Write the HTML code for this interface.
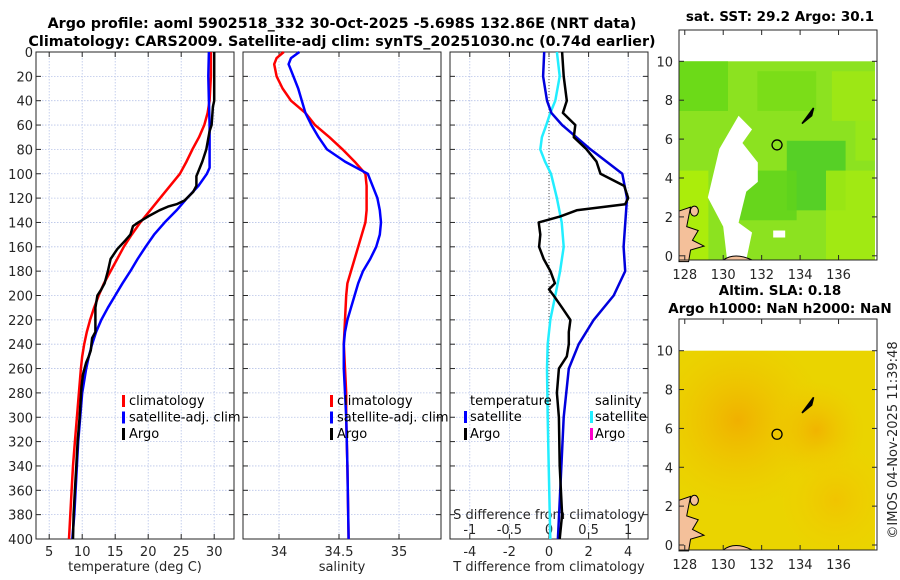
<!DOCTYPE html>
<html><head><meta charset="utf-8"><style>
body{margin:0;background:#fff;}
svg{display:block;font-family:"DejaVu Sans","Liberation Sans",sans-serif;}
.tk{font-size:13px;fill:#262626;}
.ttl{font-size:13px;font-weight:bold;fill:#000;}
.ttlm{font-size:14.3px;font-weight:bold;fill:#000;}
.lg{font-size:13px;fill:#000;}
</style></head><body>
<svg id="fig" width="900" height="580" viewBox="0 0 900 580" xmlns="http://www.w3.org/2000/svg">
<defs>
<radialGradient id="sla1" cx="0.3" cy="0.35" r="0.45"><stop offset="0" stop-color="#f0b000"/><stop offset="1" stop-color="#f0c800" stop-opacity="0"/></radialGradient>
<radialGradient id="sla2" cx="0.7" cy="0.4" r="0.25"><stop offset="0" stop-color="#f0b400"/><stop offset="1" stop-color="#f0c800" stop-opacity="0"/></radialGradient>
<radialGradient id="sla3" cx="0.8" cy="0.75" r="0.3"><stop offset="0" stop-color="#f0c400"/><stop offset="1" stop-color="#f0d000" stop-opacity="0"/></radialGradient>
</defs>
<text class="ttlm" x="342" y="28" text-anchor="middle">Argo profile: aoml 5902518_332 30-Oct-2025 -5.698S 132.86E (NRT data)</text>
<text class="ttlm" x="342" y="46" text-anchor="middle">Climatology: CARS2009. Satellite-adj clim: synTS_20251030.nc (0.74d earlier)</text>
<g id="g"></g>
<text class="ttl" x="780" y="21" text-anchor="middle" style="font-size:13.5px">sat. SST: 29.2 Argo: 30.1</text>
<text class="ttl" x="780" y="295" text-anchor="middle" style="font-size:13.5px">Altim. SLA: 0.18</text>
<text class="ttl" x="780" y="313" text-anchor="middle" style="font-size:13.5px">Argo h1000: NaN h2000: NaN</text>
<text class="tk" transform="translate(897,440) rotate(-90)" text-anchor="middle">©IMOS 04-Nov-2025 11:39:48</text>
</svg>
<script>
const depthTicks=[0,20,40,60,80,100,120,140,160,180,200,220,240,260,280,300,320,340,360,380,400];
const tTicks=[5,10,15,20,25,30];
const sTicks=[34,34.5,35];
const dTicks=[-4,-2,0,2,4];
const dsTicks=[-1,-0.5,0,0.5,1];
const dsTickLabels=["-1","-0.5","0","0.5","1"];
// temperature profiles
const tClimD=[0,20,40,50,60,70,80,90,100,110,120,130,140,150,160,170,180,190,200,210,220,230,240,250,260,280,300,320,340,360,380,400];
const tClim=[29.5,29.5,29.3,29,28.5,27.7,26.7,25.8,24.8,23.3,21.8,20.3,18.8,17.5,16.3,15.3,14.3,13.3,12.5,11.8,11.2,10.7,10.3,10,9.8,9.5,9.2,8.9,8.6,8.4,8.2,8.0];
const tSatD=[0,20,40,60,80,95,100,110,120,130,140,150,160,170,180,190,200,210,220,230,240,250,260,280,300,320,340,360,380,400];
const tSat=[29.2,29.1,29.2,29.3,29.3,29.3,28.9,27.6,25.9,24.3,22.5,20.9,19.6,18.4,17.3,16.1,15,13.9,12.9,12.1,11.5,11,10.6,10,9.7,9.4,9.2,9,8.8,8.5];
const tArgoD=[0,20,40,45,60,65,80,90,98,102,110,115,122,125,127,130,135,140,143,150,155,162,170,180,190,195,200,210,220,230,235,245,250,255,265,275,300,320,340,360,380,400];
const tArgo=[30,30,30,29.8,29.6,29.3,28.8,28.2,27.6,27.3,27.3,26.8,25.5,24.3,23,21.7,20,18.5,17.7,17.3,16.5,15.3,14.3,13.9,13.4,12.9,12.3,12,12,12,11.5,11.3,11,10.6,10.1,9.9,9.6,9.3,9.1,8.9,8.7,8.6];
// salinity profiles
const sClimD=[0,5,10,20,30,40,50,60,70,80,90,100,110,120,130,140,150,160,170,180,190,200,220,240,260,280,300,340,400];
const sClim=[34.04,33.98,33.96,33.98,34.03,34.1,34.22,34.3,34.42,34.53,34.63,34.72,34.73,34.73,34.73,34.72,34.69,34.66,34.63,34.6,34.57,34.56,34.55,34.54,34.55,34.56,34.56,34.57,34.58];
const sSatD=[0,5,10,20,30,40,50,60,70,80,90,100,110,120,130,140,150,160,170,180,190,200,210,220,230,240,260,280,300,340,400];
const sSat=[34.17,34.1,34.08,34.12,34.16,34.19,34.22,34.27,34.33,34.4,34.55,34.74,34.78,34.82,34.84,34.85,34.84,34.81,34.76,34.7,34.66,34.63,34.6,34.57,34.55,34.54,34.54,34.55,34.56,34.57,34.58];
// differences
const dSatD=[0,20,40,50,60,80,100,120,160,180,200,220,240,260,300,400];
const dSatT=[-0.24,-0.3,-0.1,0.12,0.66,2.1,3.7,3.94,3.77,3.85,3.27,2.26,1.5,1.0,0.74,0.45];
const dArgoD=[0,20,40,50,60,70,80,90,100,110,120,125,130,135,140,150,160,170,180,190,195,200,210,220,230,240,250,260,280,300,340,380,400];
const dArgoT=[0.66,0.74,0.9,0.7,1.33,1.25,1.9,2.4,2.6,3.8,4.0,3.85,1.4,0.57,-0.52,-0.44,-0.5,-0.27,0.07,0.3,0,0.23,0.66,1.08,1.0,1.0,0.9,0.5,0.4,0.5,0.54,0.66,0.54];
const dSatSD=[0,20,40,50,60,70,80,90,100,120,140,160,180,200,220,240,260,300,340,400];
const dSatS=[0.1,0.135,0.08,0.017,-0.034,-0.09,-0.11,-0.05,0.025,0.1,0.16,0.185,0.14,0.08,0.017,-0.017,-0.025,-0.017,-0.004,0.017];
// map ticks
const lonTicks=[128,130,132,134,136];
const latTicks=[0,2,4,6,8,10];
const argoPos=[132.8,5.7];

const NS="http://www.w3.org/2000/svg";
const G=document.getElementById('g');
function mk(tag,at,parent){const e=document.createElementNS(NS,tag);for(const k in at)e.setAttribute(k,at[k]);(parent||G).appendChild(e);return e;}
const PT=52,PB=539;
const yD=d=>PT+(d/400)*(PB-PT);
function xs(x0,x1,v0,v1){return v=>x0+(v-v0)/(v1-v0)*(x1-x0);}
const xT=xs(36,234,3,33), xS=xs(243,441,33.7,35.35), xDT=xs(450,648,-5,5), xDS=xs(450,648,-1.25,1.25);

function panel(name,x0,x1,xf,ticks,labels,showY,labY){
  const gg=mk('g',{});
  
  
  for(const d of depthTicks){
    const l=mk('line',{x1:x0,x2:x1,y1:yD(d),y2:yD(d),stroke:'#b8c4e8','stroke-width':0.8,'stroke-dasharray':'1.5,1.5'},gg);
    
    mk('line',{x1:x0,x2:x0+5,y1:yD(d),y2:yD(d),stroke:'#262626'},gg);
    mk('line',{x1:x1,x2:x1-5,y1:yD(d),y2:yD(d),stroke:'#262626'},gg);
    if(showY){const t=mk('text',{x:x0-3,y:yD(d)+5,'text-anchor':'end',class:'tk'},gg);t.textContent=d;
      }
  }
  ticks.forEach((v,i)=>{
    const x=xf(v);
    mk('line',{x1:x,x2:x,y1:PT,y2:PB,stroke:'#b8c4e8','stroke-width':0.8,'stroke-dasharray':'1.5,1.5'},gg);
    mk('line',{x1:x,x2:x,y1:PB,y2:PB-5,stroke:'#262626'},gg);
    mk('line',{x1:x,x2:x,y1:PT,y2:PT+5,stroke:'#262626'},gg);
    const t=mk('text',{x:x,y:labY,'text-anchor':'middle',class:'tk'},gg);t.textContent=labels[i];
    
  });
  const b=mk('rect',{x:x0,y:PT,width:x1-x0,height:PB-PT,fill:'none',stroke:'#262626','stroke-width':1},gg);
  
  return gg;
}
function line(name,xf,vals,ds,color,w){
  const p=vals.map((v,i)=>(i?'L':'M')+xf(v).toFixed(1)+','+yD(ds[i]).toFixed(1)).join('');
  const e=mk('path',{d:p,fill:'none',stroke:color,'stroke-width':w,'stroke-linejoin':'round'});
  
}
function txt(name,x,y,s,cls,anchor){const t=mk('text',{x:x,y:y,class:cls,'text-anchor':anchor||'start'});t.textContent=s;
  return t;}
function legMark(name,x,y,color){const r=mk('rect',{x:x,y:y-11,width:3,height:12,fill:color});
  }

panel('temperature-axes',36,234,xT,tTicks,tTicks.map(String),true,556);
panel('salinity-axes',243,441,xS,sTicks,["34","34.5","35"],false,556);
panel('difference-axes',450,648,xDT,dTicks,dTicks.map(String),false,556);
dsTicks.forEach((v,i)=>txt('s-diff-tick-label',xDS(v),534,dsTickLabels[i],'tk','middle'));
txt('s-diff-axis-title',549,519,'S difference from climatology','tk','middle');
const z=mk('line',{x1:xDT(0),x2:xDT(0),y1:PT,y2:PB,stroke:'#555','stroke-width':1,'stroke-dasharray':'1,2'});


line('temp-climatology-line',xT,tClim,tClimD,'#ff0000',2.5);
line('temp-satellite-line',xT,tSat,tSatD,'#0000ff',2.5);
line('temp-argo-line',xT,tArgo,tArgoD,'#000000',2.5);
line('sal-climatology-line',xS,sClim,sClimD,'#ff0000',2.5);
line('sal-satellite-line',xS,sSat,sSatD,'#0000ff',2.5);
line('sdiff-satellite-line',xDS,dSatS,dSatSD,'#22eeff',2.5);
line('tdiff-satellite-line',xDT,dSatT,dSatD,'#0000dd',2.5);
line('tdiff-argo-line',xDT,dArgoT,dArgoD,'#000000',2.5);

txt('temp-axis-title',135,571,'temperature (deg C)','tk','middle');
txt('sal-axis-title',342,571,'salinity','tk','middle');
txt('t-diff-axis-title',549,571,'T difference from climatology','tk','middle');

[['climatology','#ff0000'],['satellite-adj. clim','#0000ff'],['Argo','#000']].forEach((e,i)=>{
  legMark('legend-marker',122,406+i*16.5,e[1]);txt('legend-entry',129,405+i*16.5,e[0],'lg');
  legMark('legend-marker',330,406+i*16.5,e[1]);txt('legend-entry',337,405+i*16.5,e[0],'lg');
});
txt('legend-header-temperature',470,405,'temperature','lg');
txt('legend-header-salinity',595,405,'salinity','lg');
legMark('legend-marker',464,422,'#0000ff');txt('legend-entry',470,421,'satellite','lg');
legMark('legend-marker',464,439,'#000');txt('legend-entry',470,438,'Argo','lg');
legMark('legend-marker',590,422,'#22eeff');txt('legend-entry',595,421,'satellite','lg');
legMark('legend-marker',590,439,'#ff00cc');txt('legend-entry',595,438,'Argo','lg');

function map(name,top,bot,lat10y,lat0y,kind){
  const gg=mk('g',{});
  const lx=xs(679,877,127.7,138.0), ly=v=>lat0y+(v/10)*(lat10y-lat0y);
  const dx0=679,dx1=875,dy0=lat10y,dy1=bot;
  if(kind==='sst'){
    mk('rect',{x:dx0,y:dy0,width:dx1-dx0,height:dy1-dy0,fill:'#8ce220'},gg);
    [[0.0,0.0,0.25,0.25,'#66d818'],[0.4,0.05,0.3,0.2,'#78dc18'],[0.55,0.4,0.3,0.35,'#4ccc28'],[0.75,0.55,0.25,0.45,'#a4ea12'],[0.0,0.55,0.15,0.45,'#b0ee08'],[0.3,0.55,0.3,0.25,'#60d41c'],[0.78,0.05,0.22,0.25,'#a0e814'],[0.9,0.3,0.1,0.2,'#9ae818']].forEach(r=>
      mk('rect',{x:dx0+r[0]*(dx1-dx0),y:dy0+r[1]*(dy1-dy0),width:r[2]*(dx1-dx0),height:r[3]*(dy1-dy0),fill:r[4],opacity:0.85},gg));
    mk('polygon',{points:[[129.2,3],[129.8,5.5],[130.8,7.2],[131.5,6.5],[131,5.8],[131.8,4.8],[131.8,3.8],[131.2,3.3],[130.8,1.7],[131.5,1.2],[131.2,-0.2],[130.2,-0.2],[130,1.5]].map(p=>lx(p[0])+','+ly(p[1])).join(' '),fill:'#fff'},gg);
    mk('rect',{x:lx(132.6),y:ly(1.3),width:12,height:7,fill:'#fff'},gg);
  } else {
    mk('rect',{x:dx0,y:dy0,width:dx1-dx0,height:dy1-dy0,fill:'#ead400'},gg);
    mk('rect',{x:dx0,y:dy0,width:dx1-dx0,height:dy1-dy0,fill:'url(#sla1)'},gg);
    mk('rect',{x:dx0,y:dy0,width:dx1-dx0,height:dy1-dy0,fill:'url(#sla2)'},gg);
    mk('rect',{x:dx0,y:dy0,width:dx1-dx0,height:dy1-dy0,fill:'url(#sla3)'},gg);
  }
  mk('polygon',{points:[[127.7,2.3],[128.3,2.5],[128.1,1.5],[128.7,1.3],[128.4,0.8],[129,0.5],[128.3,0.3],[128.2,-0.3],[127.7,-0.3]].map(p=>lx(p[0])+','+ly(p[1])).join(' '),fill:'#f4c09a',stroke:'#000','stroke-width':1},gg);
  mk('ellipse',{cx:lx(128.5),cy:ly(2.3),rx:4,ry:5,fill:'#f4c09a',stroke:'#000'},gg);
  mk('path',{d:`M${lx(130)},${dy1}Q${lx(130.6)},${ly(0.2)} ${lx(131.5)},${dy1}Z`,fill:'#f4c09a',stroke:'#000'},gg);
  mk('path',{d:`M${lx(134.1)},${ly(6.8)}L${lx(134.7)},${ly(7.6)}L${lx(134.6)},${ly(7.2)}Z`,fill:'#000',stroke:'#000','stroke-width':1.5},gg);
  const c=mk('circle',{cx:lx(argoPos[0]),cy:ly(argoPos[1]),r:5,fill:'none',stroke:'#000','stroke-width':1.3},gg);
  
  mk('rect',{x:679,y:top,width:198,height:bot-top,fill:'none',stroke:'#262626'},gg);
  latTicks.forEach(v=>{mk('line',{x1:679,x2:684,y1:ly(v),y2:ly(v),stroke:'#262626'},gg);mk('line',{x1:877,x2:872,y1:ly(v),y2:ly(v),stroke:'#262626'},gg);
    const t=mk('text',{x:673,y:ly(v)+5,'text-anchor':'end',class:'tk'},gg);t.textContent=v;});
  lonTicks.forEach(v=>{mk('line',{x1:lx(v),x2:lx(v),y1:bot,y2:bot-5,stroke:'#262626'},gg);mk('line',{x1:lx(v),x2:lx(v),y1:top,y2:top+5,stroke:'#262626'},gg);
    const t=mk('text',{x:lx(v),y:bot+19,'text-anchor':'middle',class:'tk'},gg);t.textContent=v;});
}
map('sst-map',30,260,61.3,255.8,'sst');
map('sla-map',319,550,350.7,545,'sla');
</script>
</body></html>
